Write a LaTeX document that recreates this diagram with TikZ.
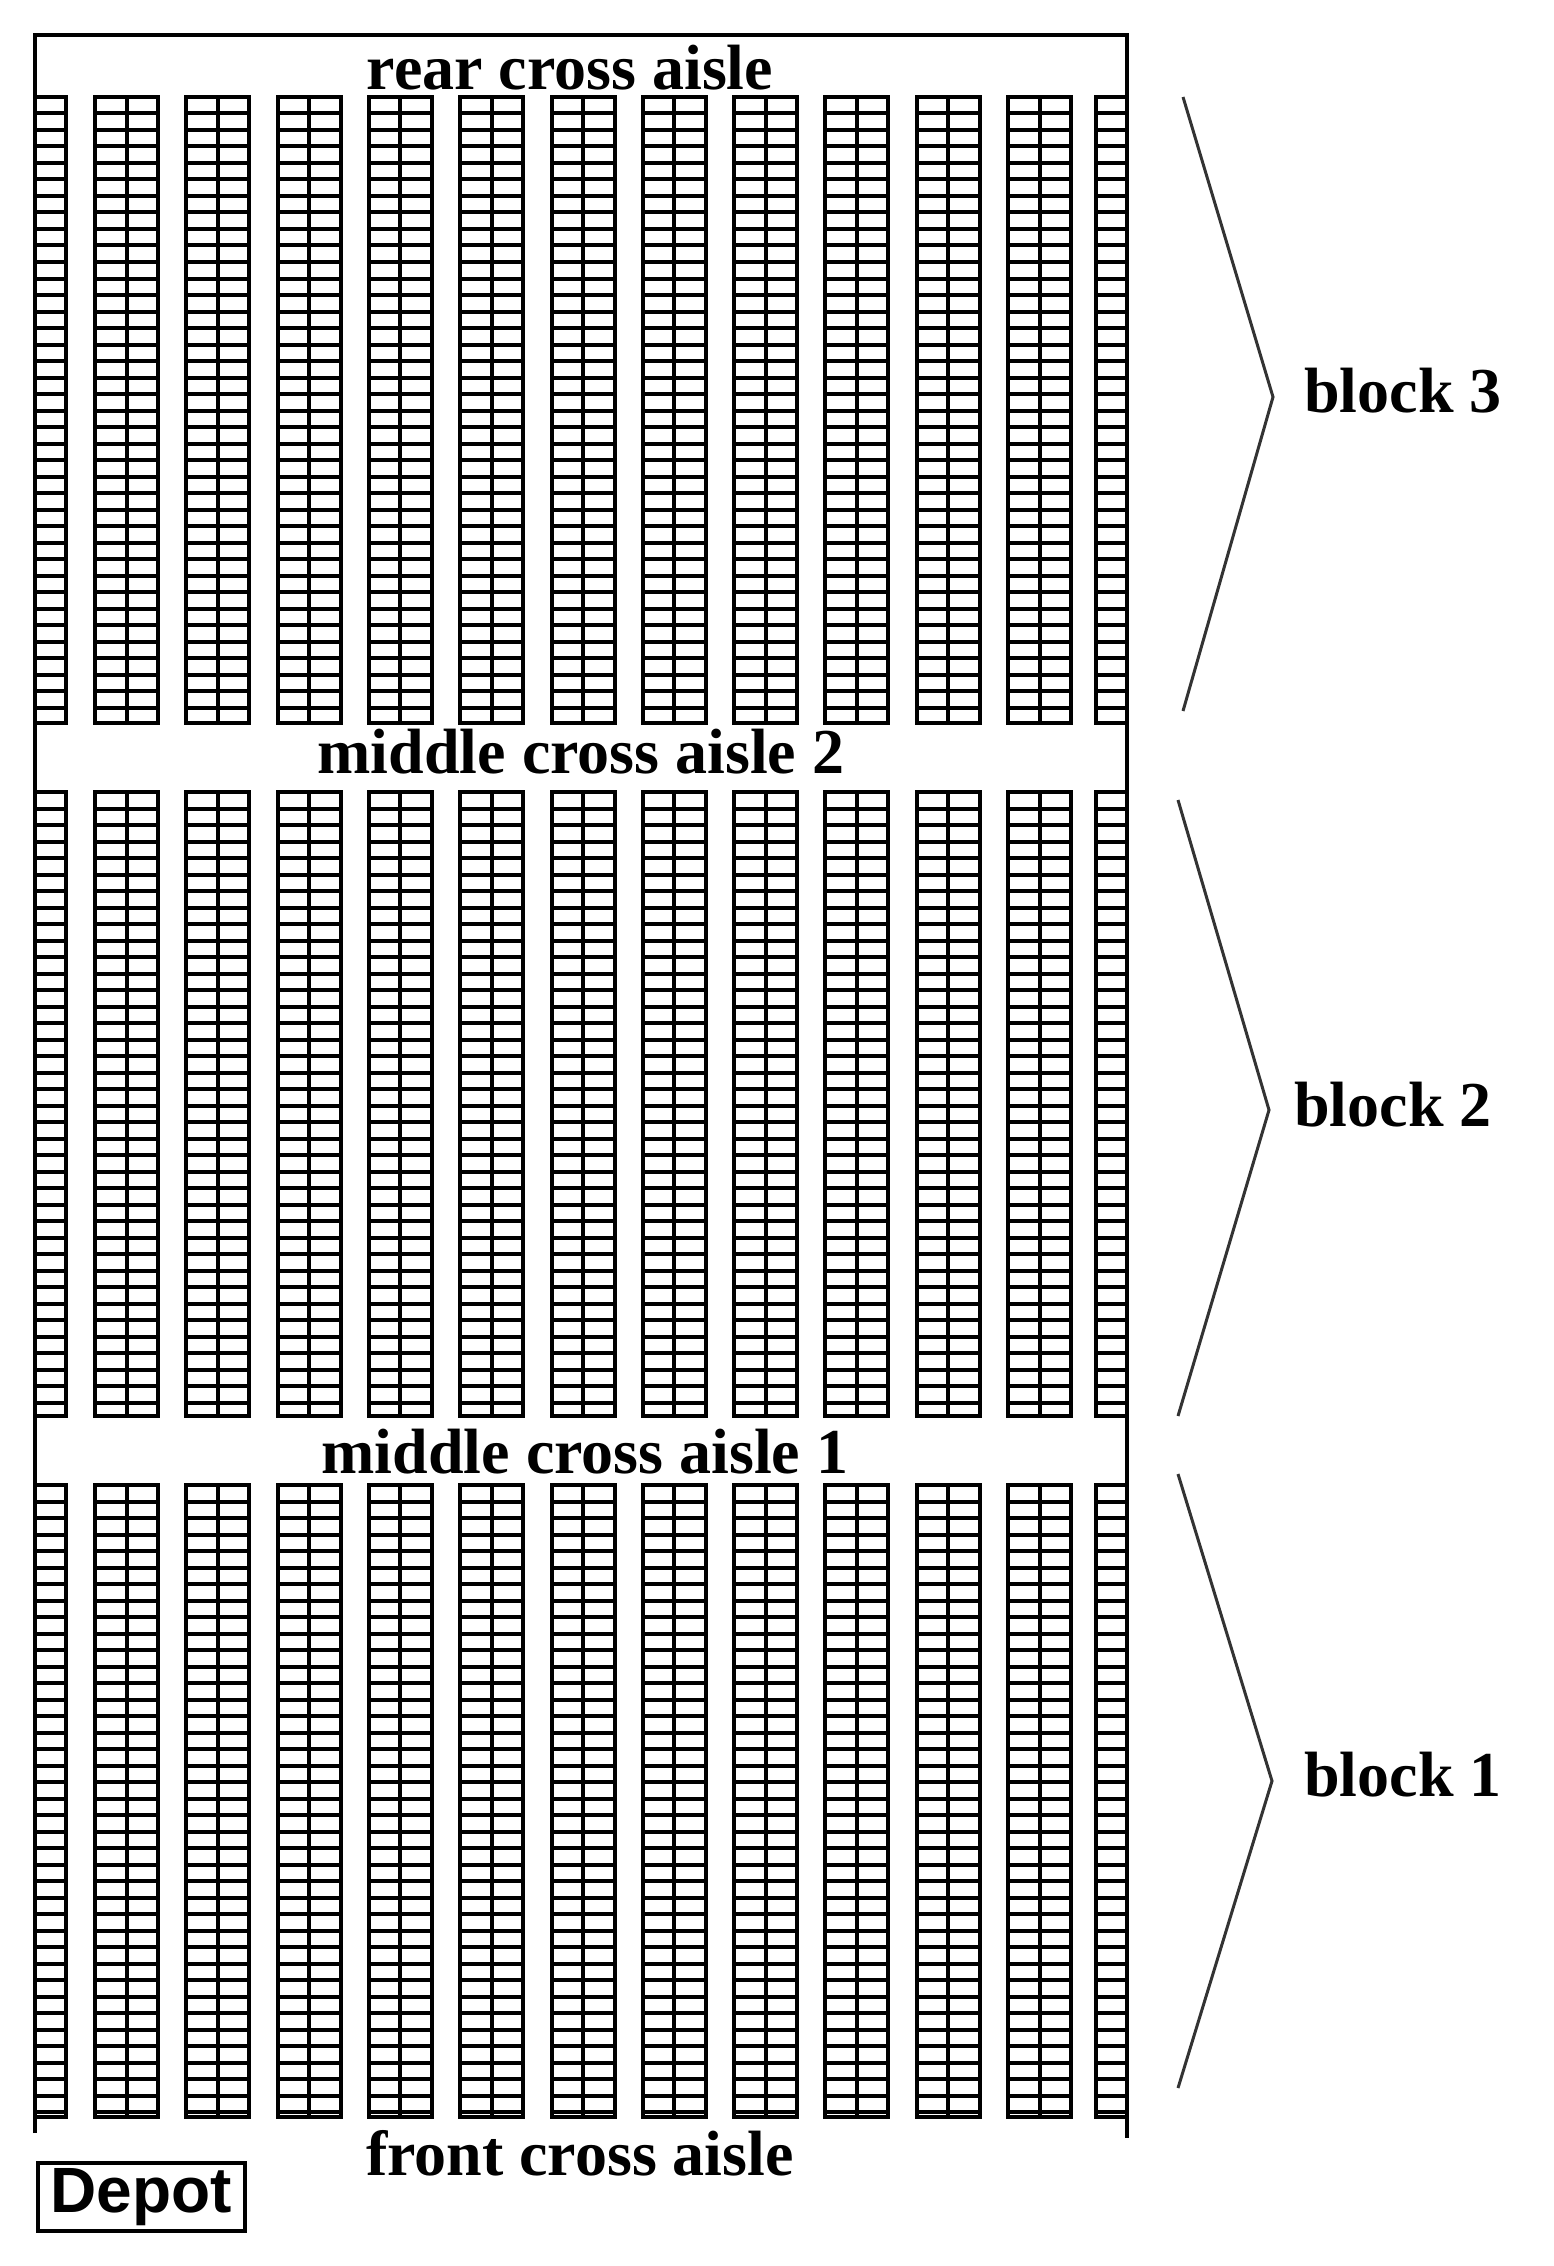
\documentclass[tikz,border=0pt]{standalone}
\usepackage{fontspec}
\setmainfont{Liberation Serif}
\newfontfamily\depotfont{Liberation Sans}
\begin{document}
\begin{tikzpicture}[x=1pt,y=-1pt,
  rk/.style={line width=4pt},
  brace/.style={line width=3pt,black!80},
  lab/.style={font=\fontsize{64}{64}\selectfont\bfseries,inner sep=0pt}]
\useasboundingbox (0,0) rectangle (1553,2266);
% frame
\draw[rk] (35,2133) -- (35,35) -- (1127,35) -- (1127,2138);
% racks
\foreach \yt/\yb in {97/723, 792/1416, 1485/2117}{
  \pgfmathsetmacro\ys{\yt+16.5}
  \pgfmathsetmacro\yz{\yt+33}
  \pgfmathsetmacro\ye{\yb-1}
  % left single rack
  \draw[rk] (35,\yt) rectangle (66,\yb);
  \foreach \y in {\ys,\yz,...,\ye} \draw[rk] (35,\y) -- (66,\y);
  % right single rack
  \draw[rk] (1096,\yt) rectangle (1127,\yb);
  \foreach \y in {\ys,\yz,...,\ye} \draw[rk] (1096,\y) -- (1127,\y);
  % double racks
  \foreach \i in {0,...,10}{
    \pgfmathsetmacro\xl{95+91.3*\i}
    \pgfmathsetmacro\xr{\xl+63}
    \pgfmathsetmacro\xm{\xl+31.5}
    \draw[rk] (\xl,\yt) rectangle (\xr,\yb);
    \draw[rk] (\xm,\yt) -- (\xm,\yb);
    \foreach \y in {\ys,\yz,...,\ye} \draw[rk] (\xl,\y) -- (\xr,\y);
  }
}
% labels
\node[lab] (rear) at (570,68) {rear cross aisle};
\node[lab] (mid2) at (581,752) {middle cross aisle 2};
\node[lab] (mid1) at (585,1452) {middle cross aisle 1};
\node[lab] (front) at (580,2153) {front cross aisle};
\node[lab] (b3) at (1403,391) {block 3};
\node[lab] (b2) at (1393,1105) {block 2};
\node[lab] (b1) at (1403,1775) {block 1};
\node[draw,line width=4pt,minimum width=207pt,minimum height=68pt,inner sep=2pt,font=\depotfont\fontsize{64}{64}\selectfont\bfseries] (depot) at (141,2197) {Depot};
% braces
\draw[brace] (1183,97) -- (1273,397) -- (1183,711);
\draw[brace] (1178,800) -- (1269,1110) -- (1178,1416);
\draw[brace] (1178,1474) -- (1272,1781) -- (1178,2088);
\end{tikzpicture}
\end{document}
